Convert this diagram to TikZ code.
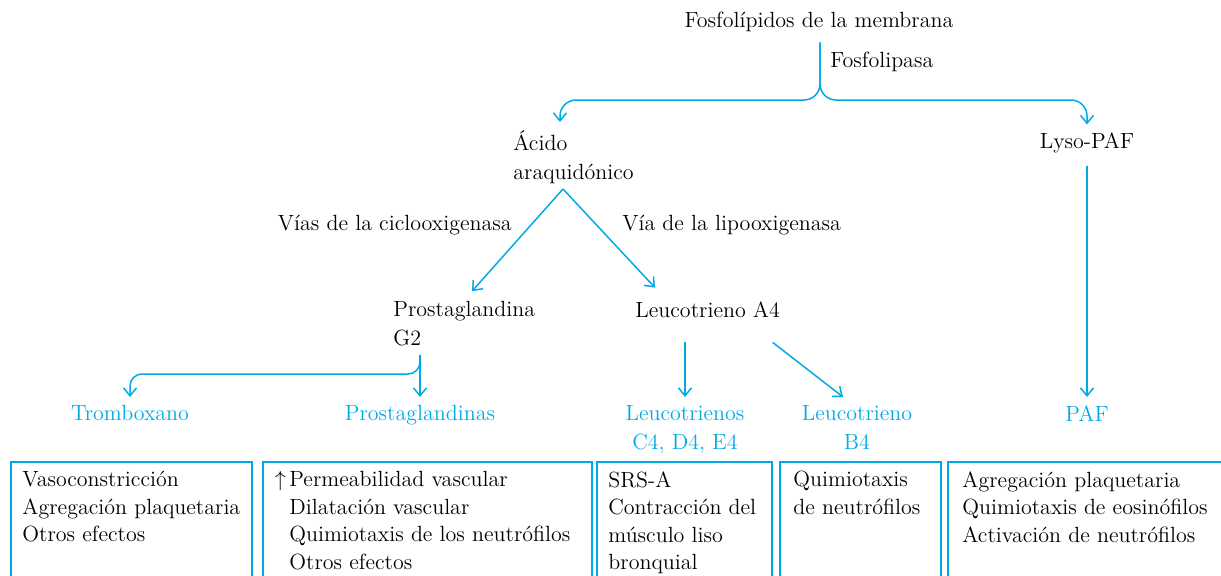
\documentclass[tikz,border=0pt]{standalone}
\usepackage{tikz}
\usetikzlibrary{positioning,arrows.meta}
\definecolor{pathcyan}{RGB}{0,170,230}

\begin{document}
\begin{tikzpicture}[
  x=0.5pt, y=-0.5pt,
  font=\fontsize{11}{14.5}\selectfont,
  lbl/.style={inner sep=0pt,align=left},
  prod/.style={inner sep=0pt,align=center,anchor=north,text=pathcyan},
  link/.style={draw=pathcyan,line width=0.75pt,-{Straight Barb[length=4pt,width=6.5pt]}},
  effbox/.style={draw=pathcyan,line width=0.75pt,anchor=north west,inner sep=0pt,minimum height=80pt},
  efftext/.style={inner sep=0pt,align=left,anchor=north west,font=\fontsize{11}{13.8}\selectfont}
]
\useasboundingbox (0,0) rectangle (1221,575);
\clip (0,0) rectangle (1221,575);

% sources and intermediates
\node[lbl] (mem) at (819,22) {Fosfol\'ipidos de la membrana};
\node[lbl,anchor=west] (fpl) at (830,62) {Fosfolipasa};
\node[lbl,anchor=west] (aa) at (513,157) {\'Acido\\araquid\'onico};
\node[lbl] (lyso) at (1087,143) {Lyso-PAF};
\node[lbl,anchor=east] (cox) at (512,225) {V\'ias de la ciclooxigenasa};
\node[lbl,anchor=west] (lox) at (622,225) {V\'ia de la lipooxigenasa};
\node[lbl,anchor=west] (pg) at (393,324) {Prostaglandina\\G2};
\node[lbl,anchor=west] (lta) at (635,310) {Leucotrieno A4};

% products
\node[prod] (tx) at (130,405) {Tromboxano};
\node[prod] (pgs) at (420,405) {Prostaglandinas};
\node[prod] (lcd) at (685,405) {Leucotrienos\\C4, D4, E4};
\node[prod] (lb4) at (857,405) {Leucotrieno\\B4};
\node[prod] (paf) at (1087,405) {PAF};

% effects
\node[effbox,minimum width=120.5pt] (b1) at (10,461) {};
\node[effbox,minimum width=164.5pt] (b2) at (262,461) {};
\node[effbox,minimum width=87.5pt] (b3) at (596,461) {};
\node[effbox,minimum width=80.5pt] (b4) at (779,461) {};
\node[effbox,minimum width=200pt] (b5) at (947,461) {};
\node[efftext] (e1) at ([shift={(12,10)}]b1.north west) {Vasoconstricci\'on\\Agregaci\'on plaquetaria\\Otros efectos};
\node[efftext] (e2) at ([shift={(27,10)}]b2.north west) {\llap{$\uparrow$\,}Permeabilidad vascular\\Dilataci\'on vascular\\Quimiotaxis de los neutr\'ofilos\\Otros efectos};
\node[efftext] (e3) at ([shift={(12,10)}]b3.north west) {SRS-A\\Contracci\'on del\\m\'usculo liso\\bronquial};
\node[efftext] (e4) at ([shift={(14,10)}]b4.north west) {Quimiotaxis\\de neutr\'ofilos};
\node[efftext] (e5) at ([shift={(15,10)}]b5.north west) {Agregaci\'on plaquetaria\\Quimiotaxis de eosin\'ofilos\\Activaci\'on de neutr\'ofilos};

% connectors
\coordinate (fork) at (820,100);
\draw[link,rounded corners=8pt] ([yshift=-5pt]mem.south -| fork) -- (fork) -| ([shift={(47,-8)}]aa.north west);
\draw[link,rounded corners=8pt] ([yshift=-5pt]mem.south -| fork) -- (fork) -| ([yshift=4pt]lyso.north);
\draw[link] ([yshift=-6pt]lyso.south) -- ([yshift=4pt]paf.north);
\coordinate (apex) at ([shift={(50,5)}]aa.south west);
\draw[link] (apex) -- ([shift={(79,-10)}]pg.north west);
\draw[link] (apex) -- ([shift={(20,-14)}]lta.north west);
\coordinate (pgfork) at ([shift={(27,8)}]pg.south west);
\draw[link] (pgfork) -- ([yshift=4pt]pgs.north);
\draw[link,rounded corners=6pt] (pgfork) |- ([yshift=15.5pt]tx.north) -- ([yshift=4pt]tx.north);
\draw[link] ([yshift=-12pt]lta.south -| lcd.north) -- ([yshift=4pt]lcd.north);
\draw[link] ([shift={(65,24)}]lta.south) -- ([shift={(-14,-8)}]lb4.north);
\end{tikzpicture}
\end{document}
